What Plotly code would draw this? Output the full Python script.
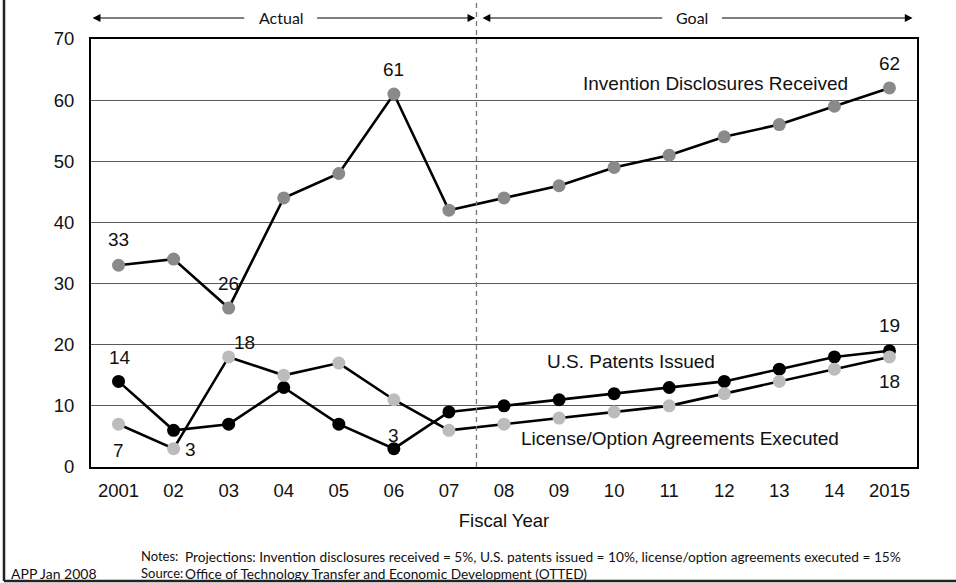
import plotly.graph_objects as go

# ---------------- data ----------------
years = [2001, 2002, 2003, 2004, 2005, 2006, 2007, 2008, 2009, 2010, 2011, 2012, 2013, 2014, 2015]
tick_labels = ["2001", "02", "03", "04", "05", "06", "07", "08", "09", "10", "11", "12", "13", "14", "2015"]
invention = [33, 34, 26, 44, 48, 61, 42, 44, 46, 49, 51, 54, 56, 59, 62]
patents = [14, 6, 7, 13, 7, 3, 9, 10, 11, 12, 13, 14, 16, 18, 19]
licenses = [7, 3, 18, 15, 17, 11, 6, 7, 8, 9, 10, 12, 14, 16, 18]

series_names = ["Invention Disclosures Received", "U.S. Patents Issued",
                "License/Option Agreements Executed"]
notes_text = ("Projections: Invention disclosures received = 5%, U.S. patents issued = 10%, "
              "license/option agreements executed = 15%")
source_text = "Office of Technology Transfer and Economic Development (OTTED)"

# ---------------- styles ----------------
ARIAL = "Arial, Liberation Sans, sans-serif"
GILL = "Lato, Open Sans, sans-serif"
W, H = 956, 583
L, R, T, B = 91, 39, 39, 116

fig = go.Figure()

def add_series(y, color):
    fig.add_trace(go.Scatter(
        x=years, y=y, mode="lines+markers",
        line=dict(color="black", width=2.6),
        marker=dict(color=color, size=13, line=dict(width=0)),
        showlegend=False, hoverinfo="x+y", cliponaxis=False))

add_series(invention, "#8a8a8a")
add_series(patents, "#000000")
add_series(licenses, "#bcbcbc")

ann = []
def lab(x, y, text, xs=0, ys=0):
    ann.append(dict(x=x, y=y, xref="x", yref="y", text=text, showarrow=False,
                    xshift=xs, yshift=ys, font=dict(family=ARIAL, size=19, color="#111")))

# point labels (values read from the arrays)
lab(years[0], invention[0], str(invention[0]), 0, 26)
lab(years[2], invention[2], str(invention[2]), 0, 25)
lab(years[5], invention[5], str(invention[5]), 0, 25)
lab(years[14], invention[14], str(invention[14]), 0, 24)
lab(years[0], patents[0], str(patents[0]), 1, 24)
lab(years[5], patents[5], str(patents[5]), 0, 13)
lab(years[14], patents[14], str(patents[14]), 0, 25)
lab(years[0], licenses[0], str(licenses[0]), 0, -26)
lab(years[1], licenses[1], str(licenses[1]), 17, -1)
lab(years[2], licenses[2], str(licenses[2]), 16, 14)
lab(years[14], licenses[14], str(licenses[14]), 0, -25)

# series labels
def slab(x, y, text):
    ann.append(dict(x=x, y=y, xref="x", yref="y", text=text, showarrow=False,
                    font=dict(family=ARIAL, size=19, color="#111")))
slab(2011.84, 62.8, series_names[0])
slab(2010.30, 17.2, series_names[1])
slab(2011.19, 4.74, series_names[2])

# Actual / Goal arrows
ytop = (H - B - 18) / (H - T - B)
def arrow(tip, tail):
    ann.append(dict(x=tip, y=ytop, xref="x", yref="paper", ax=tail, ay=0,
                    axref="x", ayref="pixel", text="", showarrow=True,
                    xanchor="center", yanchor="middle",
                    arrowhead=2, arrowsize=1.3, arrowwidth=1.2, arrowcolor="black"))
arrow(2000.53, 2003.31)
arrow(2007.48, 2004.58)
arrow(2007.61, 2010.90)
arrow(2015.42, 2011.93)
for x, t in [(2003.96, "Actual"), (2011.42, "Goal")]:
    ann.append(dict(x=x, y=ytop, xref="x", yref="paper", text=t, showarrow=False,
                    xanchor="center", yanchor="middle",
                    font=dict(family=GILL, size=16, color="#111")))

# footer texts
def px(xp):
    return (xp - L) / (W - L - R)
def py(yp):
    return (H - B - yp) / (H - T - B)
def foot(xp, yp, text, size=13.7):
    ann.append(dict(x=px(xp), y=py(yp), xref="paper", yref="paper", text=text,
                    showarrow=False, xanchor="left", yanchor="middle",
                    font=dict(family=GILL, size=size, color="#111")))
foot(139, 556, "Notes:", 13)
foot(183, 556, notes_text)
foot(139, 573, "Source:", 13)
foot(183, 573, source_text)
foot(9, 573, "APP Jan 2008", 14)

shapes = [
    dict(type="line", xref="x", yref="paper", x0=2007.5, x1=2007.5, y0=0, y1=py(0),
         line=dict(color="#777777", width=1.3, dash="5px,4px"), layer="above"),
    dict(type="line", xref="paper", yref="paper", x0=px(4), x1=px(4), y0=py(0), y1=py(581),
         line=dict(color="#222", width=2.5)),
    dict(type="line", xref="paper", yref="paper", x0=px(4), x1=px(W), y0=py(581), y1=py(581),
         line=dict(color="#222", width=2.5)),
]

fig.update_layout(
    width=W, height=H,
    margin=dict(l=L, r=R, t=T, b=B, pad=0),
    paper_bgcolor="white", plot_bgcolor="white",
    annotations=ann, shapes=shapes,
    xaxis=dict(range=[2000.5, 2015.5], tickvals=years, ticktext=tick_labels,
               showgrid=False, zeroline=False, showline=True, mirror=True,
               linecolor="black", linewidth=2, ticks="outside", ticklen=6,
               tickcolor="rgba(0,0,0,0)", tickfont=dict(family=ARIAL, size=18.5, color="#111"),
               title=dict(text="Fiscal Year", font=dict(family=ARIAL, size=18.5, color="#111"),
                          standoff=14)),
    yaxis=dict(range=[0, 70], dtick=10, showgrid=True, gridcolor="#5a5a5a", gridwidth=1.2,
               zeroline=False, showline=True, mirror=True, linecolor="black", linewidth=2,
               ticks="outside", ticklen=11, tickcolor="rgba(0,0,0,0)",
               tickfont=dict(family=ARIAL, size=18.5, color="#111")),
)

fig.write_html("out.html", config={"displayModeBar": False},
               post_script="document.body.style.margin='0';document.body.style.overflow='hidden';")
